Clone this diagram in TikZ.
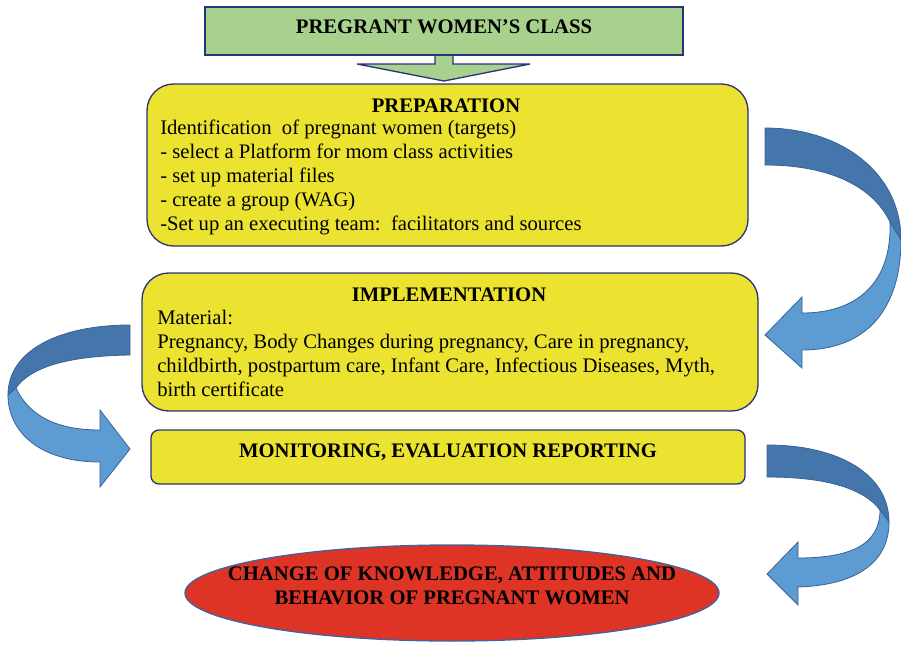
\documentclass[tikz,border=0pt]{standalone}
\usepackage{fontspec}
\setmainfont{Liberation Serif}
\usetikzlibrary{shapes.geometric}
\definecolor{greenfill}{RGB}{169,209,142}
\definecolor{yellowfill}{RGB}{236,226,48}
\definecolor{navyline}{RGB}{42,52,120}
\definecolor{blueline}{RGB}{60,100,160}
\definecolor{redfill}{RGB}{222,52,38}
\definecolor{ribbondark}{RGB}{68,118,172}
\definecolor{ribbonlight}{RGB}{93,155,211}
\definecolor{ribbonline}{RGB}{58,98,150}
\tikzset{
  greenbox/.style={draw=navyline, line width=1pt, fill=greenfill, inner sep=0pt},
  yellowbox/.style={draw=navyline, line width=1pt, fill=yellowfill, rounded corners=20pt, inner sep=0pt},
  flatbox/.style={draw=navyline, line width=1pt, fill=yellowfill, rounded corners=6pt, inner sep=0pt},
  redoval/.style={ellipse, draw=blueline, line width=1pt, fill=redfill, inner sep=0pt},
  bodytext/.style={inner sep=0pt, font=\fontsize{15.5}{18}\selectfont},
  titletext/.style={inner sep=0pt, font=\fontsize{15.5}{18}\selectfont\bfseries},
  darkpart/.style={fill=ribbondark, draw=ribbonline, line width=0.6pt},
  lightpart/.style={fill=ribbonlight, draw=ribbonline, line width=0.6pt},
  greenarrow/.style={fill=greenfill, draw=navyline, line width=1pt}
}
\begin{document}
\begin{tikzpicture}[x=0.75pt,y=-0.75pt]
\useasboundingbox (0,0) rectangle (901,654);
% green block arrow
\path[greenarrow] (435,50) -- (435,64) -- (357,64) -- (444,81) -- (530,64) -- (453,64) -- (453,50);
\node[greenbox, minimum width=478*0.75pt, minimum height=48*0.75pt] (class) at (444,31) {};
\node[titletext] (classtxt) at (444,27) {PREGRANT WOMEN’S CLASS};

% preparation
\node[yellowbox, minimum width=601*0.75pt, minimum height=162*0.75pt] (prep) at (447.5,165) {};
\node[titletext] (preptitle) at (446,105.5) {PREPARATION};
\node[bodytext, anchor=north west, align=left] (preptxt) at (160,120) {Identification\ \ of pregnant women (targets)\\
- select a Platform for mom class activities\\
- set up material files\\
- create a group (WAG)\\
-Set up an executing team:\ \ facilitators and sources};

% implementation
\node[yellowbox, minimum width=616*0.75pt, minimum height=138*0.75pt] (impl) at (450,342) {};
\node[titletext] (impltitle) at (449,295) {IMPLEMENTATION};
\node[bodytext, anchor=north west, align=left] (impltxt) at (157,310) {Material:\\
Pregnancy, Body Changes during pregnancy, Care in pregnancy,\\
childbirth, postpartum care, Infant Care, Infectious Diseases, Myth,\\
birth certificate};

% monitoring
\node[flatbox, minimum width=594*0.75pt, minimum height=54*0.75pt] (mon) at (448,457) {};
\node[titletext] (montxt) at (448,452.5) {MONITORING, EVALUATION REPORTING};

% result
\node[redoval, minimum width=534*0.75pt, minimum height=96*0.75pt] (result) at (452,593) {};
\node[titletext, align=center] (resulttxt) at (452,585.5) {CHANGE OF KNOWLEDGE, ATTITUDES AND\\BEHAVIOR OF PREGNANT WOMEN};

% ribbon arrow 1 (preparation -> implementation)
\path[darkpart] (765,128) .. controls (840,128) and (901,172) .. (901,240)
  -- (890,222) .. controls (875,190) and (835,165) .. (765,165) -- cycle;
\path[lightpart] (890,222) .. controls (892,280) and (860,313) .. (802,313)
  -- (802,297) -- (765,335) -- (802,368) -- (802,350)
  .. controls (870,350) and (901,305) .. (901,240) -- cycle;

% ribbon arrow 2 (implementation -> monitoring)
\path[darkpart] (130,325) .. controls (60,325) and (8,350) .. (8,395)
  -- (16,388) .. controls (30,368) and (65,356) .. (130,355) -- cycle;
\path[lightpart] (16,388) .. controls (30,418) and (60,430) .. (100,430)
  -- (100,410) -- (130,449) -- (100,487) -- (100,462)
  .. controls (40,462) and (8,432) .. (8,395) -- cycle;

% ribbon arrow 3 (monitoring -> result)
\path[darkpart] (767,445) .. controls (840,445) and (889,475) .. (889,522)
  -- (880,510) .. controls (865,490) and (830,477) .. (767,477) -- cycle;
\path[lightpart] (880,510) .. controls (880,545) and (850,558) .. (798,558)
  -- (798,542) -- (767,574) -- (798,605) -- (798,587)
  .. controls (860,585) and (889,560) .. (889,522) -- cycle;
\end{tikzpicture}
\end{document}
